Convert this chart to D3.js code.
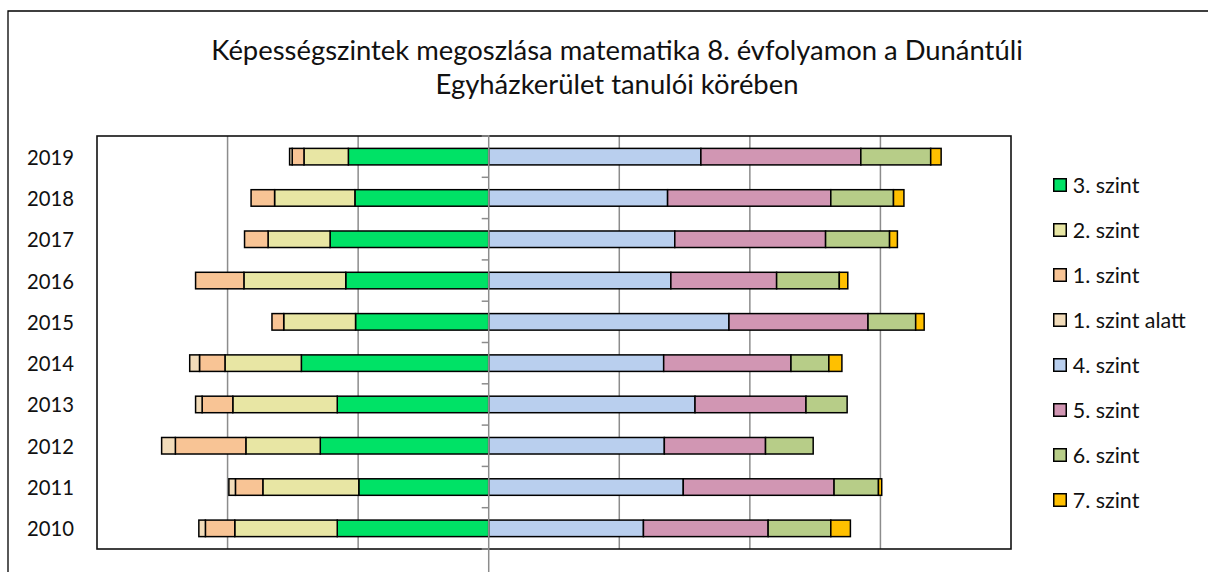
<!DOCTYPE html>
<html>
<head>
<meta charset="utf-8">
<script src="https://cdn.jsdelivr.net/npm/d3@7"></script>
<style>
  html, body { margin: 0; padding: 0; background: #fff; overflow: hidden; }
  svg { display: block; }
  text { font-family: Lato, "Open Sans", sans-serif; fill: #111; }
</style>
</head>
<body>
<svg id="chart" width="1208" height="572"></svg>
<script>
// ---- data ----
const titleLines = ["Képességszintek megoszlása matematika 8. évfolyamon a Dunántúli", "Egyházkerület tanulói körében"];
const years = ["2019", "2018", "2017", "2016", "2015", "2014", "2013", "2012", "2011", "2010"];
const seriesNames = ["3. szint", "2. szint", "1. szint", "1. szint alatt", "4. szint", "5. szint", "6. szint", "7. szint"];
const negativeSeries = ["3. szint", "2. szint", "1. szint", "1. szint alatt"];
const lvl3  = [21.5, 20.5, 24.3, 21.9, 20.4, 28.7, 23.2, 25.8, 19.9, 23.2];
const lvl2  = [6.8, 12.3, 9.5, 15.6, 11.0, 11.7, 16.0, 11.4, 14.7, 15.7];
const lvl1  = [1.8, 3.6, 3.6, 7.4, 1.8, 3.9, 4.7, 10.8, 4.2, 4.5];
const lvl0  = [0.4, 0, 0, 0, 0, 1.5, 1.0, 2.1, 1.0, 1.0];
const lvl4  = [32.5, 27.4, 28.5, 27.9, 36.8, 26.8, 31.6, 26.9, 29.8, 23.7];
const lvl5  = [24.5, 25.0, 23.1, 16.2, 21.3, 19.5, 17.0, 15.5, 23.1, 19.1];
const lvl6  = [10.7, 9.6, 9.8, 9.6, 7.3, 5.8, 6.3, 7.3, 6.8, 9.6];
const lvl7  = [1.6, 1.6, 1.2, 1.3, 1.3, 2.0, 0, 0, 0.5, 3.0];
const xTicks = [-60, -40, -20, 0, 20, 40, 60, 80];
const colors = ["#00E266", "#E8E6A4", "#F8C495", "#F2DCBA", "#B9CFEE", "#D196B3", "#B7CD88", "#FFC000"];

// ---- layout ----
const svg = d3.select("#chart");
const plot = { left: 97, right: 1011, top: 136, bottom: 549 };

const valueArrays = [lvl3, lvl2, lvl1, lvl0, lvl4, lvl5, lvl6, lvl7];
const rows = years.map((y, i) => {
  const r = { year: y };
  seriesNames.forEach((s, k) => {
    const v = valueArrays[k][i];
    r[s] = negativeSeries.includes(s) ? -v : v;
  });
  return r;
});

const x = d3.scaleLinear().domain([xTicks[0], xTicks[xTicks.length - 1]]).range([plot.left, plot.right]);
const y = d3.scaleBand().domain(years).range([plot.top, plot.bottom]).paddingInner(0.6).paddingOuter(0.3);
const color = d3.scaleOrdinal().domain(seriesNames).range(colors);

const stacked = d3.stack().keys(seriesNames).offset(d3.stackOffsetDiverging)(rows);

// outer frame (only top and left edges fall inside the picture)
svg.append("path").attr("d", "M8,580 L8,11 L1220,11")
  .attr("fill", "none").attr("stroke", "#000").attr("stroke-width", 1.3);

// helper: fit text to target width
function fitText(sel, targetWidth) {
  const base = 20;
  sel.style("font-size", base + "px");
  const w = sel.node().getComputedTextLength();
  sel.style("font-size", (base * targetWidth / w).toFixed(2) + "px");
}

// title
const t1 = svg.append("text").attr("x", 617).attr("y", 60).attr("text-anchor", "middle").text(titleLines[0]);
fitText(t1, 812);
const tfs = parseFloat(t1.style("font-size"));
svg.append("text").attr("x", 617).attr("y", 93.5).attr("text-anchor", "middle")
  .style("font-size", tfs + "px").text(titleLines[1]);

// gridlines
svg.append("g").selectAll("line").data(xTicks.slice(1, -1).filter(d => d !== 0)).join("line")
  .attr("x1", d => x(d)).attr("x2", d => x(d))
  .attr("y1", plot.top).attr("y2", plot.bottom)
  .attr("stroke", "#8c8c8c").attr("stroke-width", 1.5);

// plot border
svg.append("rect").attr("x", plot.left).attr("y", plot.top)
  .attr("width", plot.right - plot.left).attr("height", plot.bottom - plot.top)
  .attr("fill", "none").attr("stroke", "#111").attr("stroke-width", 1.6);

// bars
svg.append("g").selectAll("g").data(stacked).join("g")
  .attr("fill", d => color(d.key))
  .selectAll("rect").data(d => d.filter(p => Math.abs(p[1] - p[0]) > 1e-9)).join("rect")
  .attr("x", p => x(Math.min(p[0], p[1])))
  .attr("width", p => Math.abs(x(p[1]) - x(p[0])))
  .attr("y", p => y(p.data.year))
  .attr("height", y.bandwidth())
  .attr("stroke", "#000").attr("stroke-width", 1.5);

// center axis with ticks at category boundaries
const step = y.step();
const boundaries = d3.range(years.length + 1).map(i => plot.top + i * step);
const axisG = svg.append("g");
axisG.append("line").attr("x1", x(0)).attr("x2", x(0)).attr("y1", plot.top - 1).attr("y2", 572)
  .attr("stroke", "#8c8c8c").attr("stroke-width", 1.5);
axisG.selectAll("line.tick").data(boundaries).join("line").attr("class", "tick")
  .attr("x1", x(0) - 7).attr("x2", x(0)).attr("y1", d => d).attr("y2", d => d)
  .attr("stroke", "#8c8c8c").attr("stroke-width", 1.5);

// year labels
const yl = svg.append("g").selectAll("text").data(years).join("text")
  .attr("x", 74).attr("y", d => y(d) + y.bandwidth() / 2)
  .attr("text-anchor", "end").attr("dominant-baseline", "central")
  .text(d => d);
const yearSize = (() => { const n = yl.nodes()[0]; n.style.fontSize = "20px"; const w = n.getComputedTextLength(); return 20 * 47 / w; })();
yl.style("font-size", yearSize + "px");

// legend
const legY0 = 185, legStep = 45;
const leg = svg.append("g").selectAll("g").data(seriesNames).join("g")
  .attr("transform", (d, i) => `translate(1053, ${legY0 + i * legStep})`);
leg.append("rect").attr("x", 0.75).attr("y", -6.25).attr("width", 12.5).attr("height", 12.5)
  .attr("fill", d => color(d)).attr("stroke", "#000").attr("stroke-width", 1.5);
const legText = leg.append("text").attr("x", 19.7).attr("y", 0).attr("dominant-baseline", "central").text(d => d);
const legSize = (() => { const n = legText.nodes()[0]; n.style.fontSize = "20px"; const w = n.getComputedTextLength(); return 20 * 66.7 / w; })();
legText.style("font-size", legSize + "px");
</script>
</body>
</html>
